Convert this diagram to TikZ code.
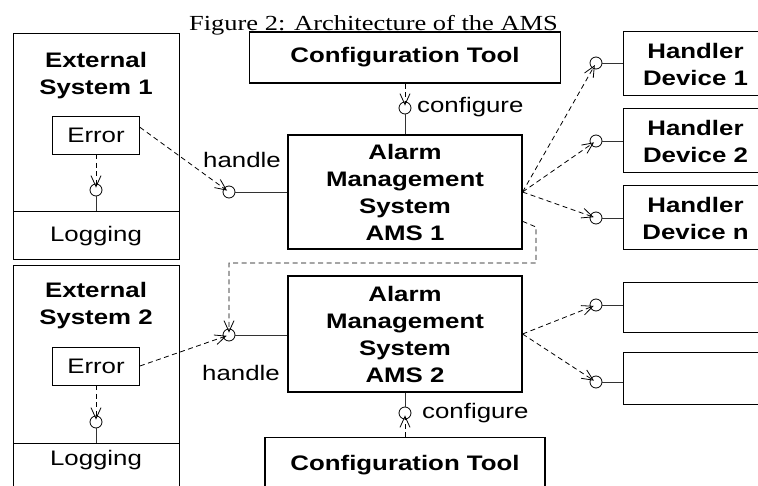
\documentclass[tikz,border=0pt]{standalone}
\usepackage{fontspec}
\setmainfont{Liberation Sans}[FakeStretch=1.23]
\newfontfamily\capfont{Liberation Serif}[FakeStretch=1.23]
\usepackage{tikz}
\usetikzlibrary{arrows.meta,calc,positioning}
\newcommand{\boxfont}{\fontsize{21}{27}\selectfont}
\tikzset{%
	txt/.style    = {inner sep=0pt, align=center, font=\boxfont},
	bold/.style   = {font=\boxfont\bfseries},
	sysbox/.style = {draw, rectangle, line width=1pt, minimum width=166pt, inner sep=0pt, font=\boxfont},
	errbox/.style = {draw, rectangle, line width=0.8pt, minimum width=87pt, minimum height=38pt, inner sep=0pt, font=\boxfont},
	cfgbox/.style = {draw, rectangle, line width=1.1pt, minimum width=311pt, inner sep=0pt, font=\boxfont\bfseries},
	amsbox/.style = {draw, rectangle, line width=1.1pt, minimum width=234pt, inner sep=0pt, align=center, font=\boxfont\bfseries},
	devbox/.style = {draw, rectangle, line width=1pt, minimum width=145pt, inner sep=0pt, align=center, font=\boxfont\bfseries},
	lolly/.style  = {draw, circle, minimum size=12pt, inner sep=0pt, line width=0.8pt},
	stem/.style   = {line width=0.9pt, black!80},
	dep/.style    = {dash pattern=on 5pt off 3.5pt, line width=0.8pt, shorten >=-4pt, -{Straight Barb[length=11pt,width=10pt,line width=0.8pt]}},
}
\begin{document}
\begin{tikzpicture}[x=1pt,y=-1pt]
	\useasboundingbox (0,0) rectangle (758,486);
	\node[txt, anchor=base] (cap) at (373.5,30.5) {\capfont\fontsize{21.5}{26}\selectfont Figure 2: Architecture of the AMS};
	\node[cfgbox, minimum height=51pt] (cfgA) at (405,57.5) {Configuration Tool};
	\node[amsbox, minimum height=114pt] (amsA) at (405,192) {Alarm\\Management\\System\\AMS 1};
	\node[sysbox, minimum height=178pt] (extA) at (96,123) {};
	\node[txt, bold] (ttlA) at (96,76) {External\\System 1};
	\node[errbox] (errA) at (96,135) {Error};
	\node[sysbox, minimum height=48pt] (logA) at (96,236) {Logging};
	\node[lolly] (lolA) at (96,190) {};
	\node[lolly] (handA) at (229,192) {};
	\node[txt, anchor=base west] (hlA) at (203,168) {handle};
	\node[lolly] (lolcA) at (405,108) {};
	\node[txt, anchor=base west] (cfA) at (417,113) {configure};
	\node[devbox, minimum height=64pt] (hdA) at (695.5,64) {Handler\\Device 1};
	\node[devbox, minimum height=64pt] (hdB) at (695.5,141) {Handler\\Device 2};
	\node[devbox, minimum height=64pt] (hdN) at (695.5,218) {Handler\\Device n};
	\node[lolly] (lolH1) at (596,63) {};
	\node[lolly] (lolH2) at (596,141) {};
	\node[lolly] (lolHn) at (596,218) {};
	\node[sysbox, minimum height=177pt] (extB) at (96,354.5) {};
	\node[txt, bold] (ttlB) at (96,306) {External\\System 2};
	\node[errbox] (errB) at (96,366) {Error};
	\node[sysbox, anchor=north, text height=15pt, text depth=30pt, inner ysep=7pt] (logB) at (96,443) {Logging};
	\node[lolly] (lolB) at (96,422) {};
	\node[amsbox, minimum height=116pt] (amsB) at (405,334) {Alarm\\Management\\System\\AMS 2};
	\node[lolly] (handB) at (229,335) {};
	\node[txt, anchor=base west] (hlB) at (202,381) {handle};
	\node[lolly] (lolcB) at (405,413) {};
	\node[txt, anchor=base west] (cfB) at (422,418) {configure};
	\node[cfgbox, anchor=north, minimum width=280pt, text height=15pt, text depth=25pt, inner ysep=18pt] (cfgB) at (405,437) {Configuration Tool};
	\node[devbox, minimum height=50pt] (dvA) at (695.5,308) {};
	\node[devbox, minimum height=51pt] (dvB) at (695.5,378.5) {};
	\node[lolly] (lolD1) at (596,305) {};
	\node[lolly] (lolD2) at (596,382) {};
	\coordinate (bendA) at (536,227);
	\coordinate (bendB) at (536,263);
	\draw[stem] (lolA) -- (logA);
	\draw[dep] (errA) -- (lolA);
	\draw[dep] (errA.10) -- (handA);
	\draw[stem] (handA) -- (handA -| amsA.west);
	\draw[dep] (cfgA) -- (lolcA);
	\draw[stem] (lolcA) -- (amsA);
	\foreach \d/\h in {lolH1/hdA,lolH2/hdB,lolHn/hdN} {
		\draw[dep] (amsA.east) -- (\d);
		\draw[stem] (\d) -- (\d -| \h.west);
	}
	\draw[dep] (amsA.-14) -- (bendA) -- (bendB) -| (handB);
	\draw[stem] (lolB) -- (logB);
	\draw[dep] (errB) -- (lolB);
	\draw[dep] (errB.east) -- (handB);
	\draw[stem] (handB) -- (handB -| amsB.west);
	\draw[stem] (amsB) -- (lolcB);
	\draw[dep] (cfgB) -- (lolcB);
	\foreach \d/\h in {lolD1/dvA,lolD2/dvB} {
		\draw[dep] (amsB.east) -- (\d);
		\draw[stem] (\d) -- (\d -| \h.west);
	}
\end{tikzpicture}
\end{document}
